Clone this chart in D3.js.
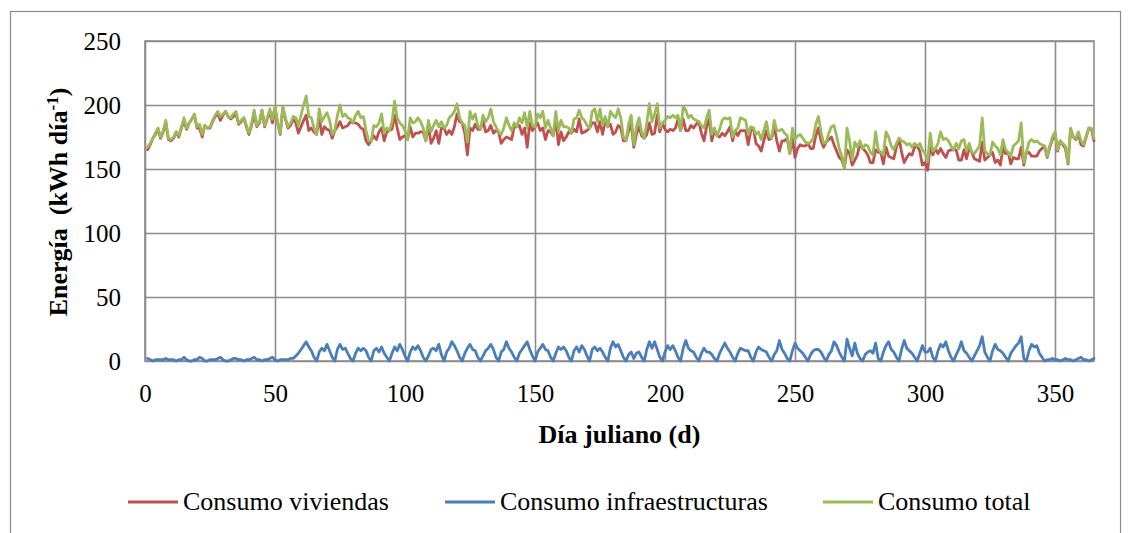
<!DOCTYPE html>
<html><head><meta charset="utf-8">
<script src="https://cdn.jsdelivr.net/npm/d3@7"></script>
<style>
body{margin:0;background:#fff}
svg{display:block;font-family:"Liberation Serif","Times New Roman",serif}
text{font-family:"Liberation Serif","Times New Roman",serif;fill:#000}
</style>
</head><body>
<svg id="c" width="1131" height="533"></svg>
<script>
const seriesNames = ["Consumo viviendas", "Consumo infraestructuras", "Consumo total"];
const seriesColors = ["#C0504D", "#4A7EBB", "#9BBB59"];
const xTicks = [0, 50, 100, 150, 200, 250, 300, 350];
const yTicks = [0, 50, 100, 150, 200, 250];
const firstDay = 1;

const consumoViviendas = [
165,169,174,177,181,174,179,186,173,172,
174,179,175,182,187,181,186,189,192,182,
182,175,184,182,182,187,191,193,188,192,
195,191,189,191,193,185,187,190,183,177,
184,193,183,186,196,183,189,195,186,198,
186,177,198,189,182,184,189,186,178,183,
188,192,180,182,179,177,190,177,183,181,
180,174,180,183,187,182,183,184,187,186,
186,185,182,181,172,169,172,176,173,179,
182,172,179,180,181,192,182,173,175,176,
173,183,175,178,178,179,179,172,184,170,
174,180,170,182,182,177,180,177,183,193,
187,186,178,161,182,180,185,181,181,188,
179,180,184,178,180,179,170,173,175,174,
173,183,183,184,177,182,167,186,180,183,
186,180,182,173,180,179,176,189,169,179,
172,175,179,178,181,179,189,178,179,180,
182,186,186,179,187,177,188,183,185,177,
179,184,182,172,172,180,185,167,177,183,
176,174,177,186,177,178,192,179,186,181,
179,181,180,182,189,180,189,180,180,184,
182,185,187,178,172,183,189,172,180,176,
175,178,176,179,183,172,180,176,180,180,
180,169,180,182,170,168,164,172,180,173,
174,183,172,164,172,172,174,162,174,159,
166,169,168,168,170,166,166,176,182,172,
167,171,173,175,169,164,159,157,151,165,
162,153,157,161,170,166,164,161,155,155,
165,163,163,154,167,160,159,158,167,174,
163,155,159,162,161,167,168,164,153,155,
149,168,161,166,162,166,162,159,164,165,
165,165,157,157,165,158,167,163,158,157,
156,171,157,159,161,163,155,157,153,167,
162,163,154,159,158,158,167,153,163,163,
160,160,160,164,166,168,159,167,173,178,
164,172,169,166,154,181,175,173,177,169,
168,175,182,181,172
];

const consumoInfraestructuras = [
2,1,0,1,1,1,1,2,1,1,
1,0,1,1,3,1,0,0,1,1,
3,2,0,0,1,1,1,2,3,1,
0,0,1,2,2,1,1,0,1,1,
2,3,1,1,0,1,1,2,3,1,
0,1,1,1,1,2,2,4,6,9,
12,15,11,8,3,0,7,10,8,13,
8,3,0,9,13,9,10,6,2,0,
6,10,8,10,8,3,0,8,10,7,
11,6,3,0,6,11,8,13,9,4,
0,7,11,9,12,8,3,0,4,9,
10,8,13,5,0,7,10,15,12,8,
3,0,6,10,13,9,8,3,0,4,
8,10,13,9,3,0,7,9,15,10,
7,3,0,6,9,12,15,9,4,0,
7,10,13,9,8,3,0,6,11,9,
11,8,3,0,8,11,7,12,9,4,
0,9,11,8,10,7,3,0,10,15,
11,13,8,3,0,5,7,2,6,7,
3,0,9,15,10,15,9,3,0,7,
12,9,12,8,3,0,10,16,10,8,
7,3,0,6,10,7,7,5,2,0,
6,10,14,10,7,3,0,6,10,9,
8,8,3,0,7,11,9,8,7,3,
0,5,8,16,9,6,2,0,8,14,
10,8,6,3,0,5,8,9,9,7,
3,0,5,8,15,12,7,3,0,17,
10,4,14,6,2,0,5,7,8,6,
14,2,0,7,12,15,9,7,3,0,
9,16,10,8,6,3,0,6,12,7,
7,10,3,0,8,13,11,15,8,3,
0,5,9,15,8,6,3,0,4,8,
12,19,7,3,0,8,13,9,8,6,
3,0,6,9,12,14,19,2,0,8,
13,11,12,6,3,0,1,1,2,1,
1,0,1,2,1,1,0,1,2,3,
1,1,0,1,2
];

const consumoTotal = [
167,170,174,178,182,175,180,188,174,173,
175,179,176,183,190,182,186,189,193,183,
185,177,184,182,183,188,192,195,191,193,
195,191,190,193,195,186,188,190,184,178,
186,196,184,187,196,184,190,197,189,199,
186,178,199,190,183,186,191,190,184,192,
200,207,191,190,182,177,197,187,191,194,
188,177,180,192,200,191,193,190,189,186,
192,195,190,191,180,172,172,184,183,186,
193,178,182,180,187,203,190,186,184,180,
173,190,186,187,190,187,182,172,188,179,
184,188,183,187,182,184,190,192,195,201,
190,186,184,171,195,189,193,184,181,192,
187,190,197,187,183,179,177,182,190,184,
180,186,183,190,186,194,182,195,184,183,
193,190,195,182,188,182,176,195,180,188,
183,183,182,178,189,190,196,190,188,184,
182,195,197,187,197,184,191,183,195,192,
190,197,190,175,172,185,192,169,183,190,
179,174,186,201,187,193,201,182,186,188,
191,190,192,190,192,180,199,196,190,192,
189,188,187,184,182,190,196,177,182,176,
181,188,190,189,190,175,180,182,190,189,
188,177,183,182,177,179,173,180,187,176,
174,188,180,180,181,178,176,162,182,173,
176,177,174,171,170,171,174,185,191,179,
170,171,178,183,184,176,166,160,151,182,
172,157,171,167,172,166,169,168,163,161,
179,165,163,161,179,175,168,165,170,174,
172,171,169,170,167,170,168,170,165,162,
156,178,164,166,170,179,173,174,172,168,
165,170,166,172,173,164,170,163,162,165,
168,190,164,162,161,171,168,166,161,173,
165,163,160,168,170,172,186,155,163,171,
173,171,172,170,169,168,160,168,175,179,
165,172,170,168,155,182,175,174,179,172,
169,176,182,182,174
];

const FONT = '"Liberation Serif","Times New Roman",serif';
const svg = d3.select("#c");
const m = {left: 145, top: 41, right: 1094, bottom: 361};

// outer frame
svg.append("rect").attr("x", 10.5).attr("y", 11.5).attr("width", 1110).attr("height", 560)
  .attr("fill", "none").attr("stroke", "#8a8a8a").attr("stroke-width", 1.2);

const x = d3.scaleLinear().domain([0, 365]).range([m.left, m.right]);
const y = d3.scaleLinear().domain([0, 250]).range([m.bottom, m.top]);

const gridColor = "#8c8c8c";

// y axis with horizontal gridlines
const gy = svg.append("g").attr("transform", `translate(${m.left},0)`)
  .call(d3.axisLeft(y).tickValues(yTicks).tickSize(-(m.right - m.left)).tickPadding(24).tickFormat(d3.format("d")));
gy.attr("font-family", FONT);
gy.select(".domain").remove();
gy.selectAll(".tick line").attr("stroke", gridColor).attr("stroke-width", 1.6);
gy.selectAll(".tick text").attr("font-size", 25).attr("dy", "0.33em")
  .style("font-family", FONT).attr("fill", "#000");

// x axis with vertical gridlines
const gx = svg.append("g").attr("transform", `translate(0,${m.bottom})`)
  .call(d3.axisBottom(x).tickValues(xTicks).tickSize(-(m.bottom - m.top)).tickPadding(23).tickFormat(d3.format("d")));
gx.attr("font-family", FONT);
gx.select(".domain").remove();
gx.selectAll(".tick line").attr("stroke", gridColor).attr("stroke-width", 1.6);
gx.selectAll(".tick text").attr("font-size", 25).attr("dy", "0.71em")
  .style("font-family", FONT).attr("fill", "#000");

// plot border
svg.append("rect").attr("x", m.left).attr("y", m.top)
  .attr("width", m.right - m.left).attr("height", m.bottom - m.top)
  .attr("fill", "none").attr("stroke", gridColor).attr("stroke-width", 1.6);

// series
const seriesData = [consumoViviendas, consumoInfraestructuras, consumoTotal];
const line = d3.line().x((d, i) => x(firstDay + i)).y(d => y(d));
seriesData.forEach((arr, k) => {
  svg.append("path").datum(arr).attr("d", line)
    .attr("fill", "none").attr("stroke", seriesColors[k]).attr("stroke-width", 2.8)
    .attr("stroke-linejoin", "round").attr("stroke-linecap", "round");
});

// axis titles
svg.append("text").attr("x", (m.left + m.right) / 2).attr("y", 443)
  .attr("text-anchor", "middle").attr("font-size", 26).attr("font-weight", "bold")
  .style("font-family", FONT)
  .text("Día juliano (d)");

const yt = svg.append("text").attr("transform", `translate(67,${(m.top + m.bottom) / 2 + 1}) rotate(-90)`)
  .attr("text-anchor", "middle").attr("font-size", 26).attr("font-weight", "bold")
  .style("font-family", FONT);
yt.append("tspan").attr("xml:space", "preserve").text("Energía  (kWh día");
yt.append("tspan").attr("dy", -9).attr("font-size", 17).text("-1");
yt.append("tspan").attr("dy", 9).text(")");

// legend
const legendX = [128, 445, 823];
seriesNames.forEach((name, k) => {
  svg.append("line").attr("x1", legendX[k]).attr("x2", legendX[k] + 50)
    .attr("y1", 502).attr("y2", 502).attr("stroke", seriesColors[k]).attr("stroke-width", 2.8);
  svg.append("text").attr("x", legendX[k] + 55).attr("y", 510).attr("font-size", 26)
    .style("font-family", FONT).text(name);
});
</script>
</body></html>
